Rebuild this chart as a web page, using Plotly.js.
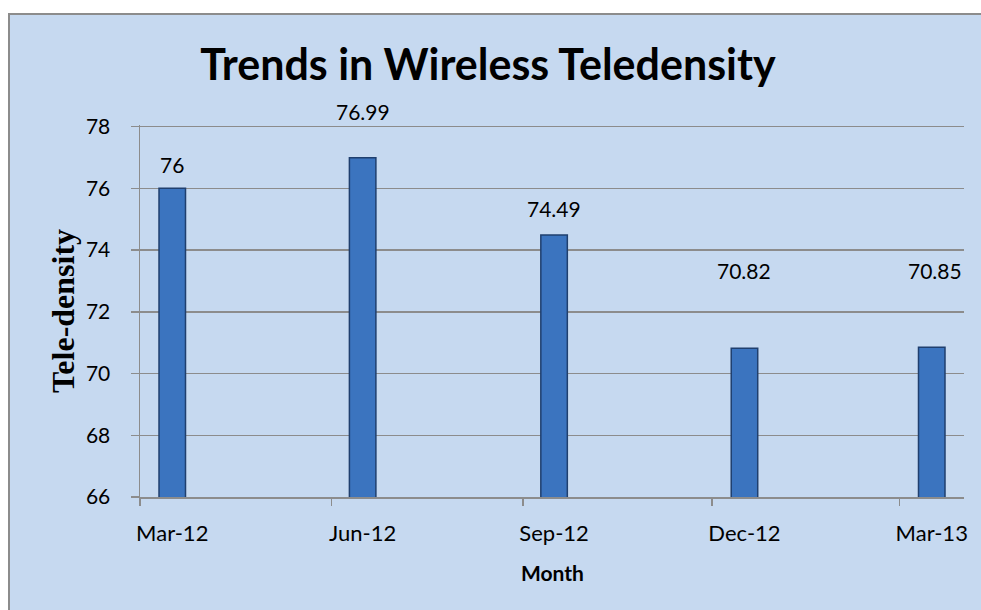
<!DOCTYPE html>
<html>
<head>
<meta charset="utf-8">
<script src="https://cdn.plot.ly/plotly-3.0.1.min.js"></script>
<style>
  html, body { margin: 0; padding: 0; background: #ffffff; overflow: hidden; width: 981px; height: 610px; }
  #wrap { position: absolute; left: 8px; top: 13px; width: 1100px; height: 700px; background: #c6d9f0;
          border-left: 2px solid #8c8c8c; border-top: 2px solid #8c8c8c; overflow: hidden; }
  #chart { width: 1000px; height: 600px; }
</style>
</head>
<body>
<div id="wrap"><div id="chart"></div></div>
<script>
// ---- data ----
const months = ['2012-03-01', '2012-06-01', '2012-09-01', '2012-12-01', '2013-03-01'];
const monthLabels = ['Mar-12', 'Jun-12', 'Sep-12', 'Dec-12', 'Mar-13'];
const teledensity = [76, 76.99, 74.49, 70.82, 70.85];
const valueLabels = ['76', '76.99', '74.49', '70.82', '70.85'];

// ---- layout helpers ----
function midMonth(s) {
  const d = new Date(s + 'T00:00:00Z');
  const start = Date.UTC(d.getUTCFullYear(), d.getUTCMonth(), 1);
  const next = Date.UTC(d.getUTCFullYear(), d.getUTCMonth() + 1, 1);
  return (start + next) / 2;
}
const mids = months.map(midMonth);
const labelShift = [24, 46, 26, 78, 77];   // label offsets above bar tops (px)
const labelXShift = [0, 0, 0, 0, 3];

const gridCol = '#8c8c8c';
const txtFont = 'Lato, "Open Sans", sans-serif';

const trace = {
  type: 'bar',
  x: months,
  y: teledensity,
  xperiod: 'M1',
  xperiodalignment: 'middle',
  width: 1.1e9,
  marker: { color: '#3b74bf', line: { color: '#1f3f6e', width: 1.5 } },
  hoverinfo: 'x+y'
};

const annotations = teledensity.map((v, i) => ({
  x: mids[i], y: v, xref: 'x', yref: 'y',
  text: valueLabels[i], showarrow: false,
  xanchor: 'center', yanchor: 'middle',
  yshift: labelShift[i], xshift: labelXShift[i],
  font: { family: txtFont, size: 21, color: '#000000' }
}));

annotations.push({
  xref: 'paper', yref: 'paper', x: -0.0934, y: 0.5,
  text: 'Tele-density', textangle: -90, showarrow: false,
  xanchor: 'center', yanchor: 'middle',
  font: { family: '"Liberation Serif", "Times New Roman", serif', size: 32, color: '#000000', weight: 'bold' }
});
annotations.push({
  xref: 'paper', yref: 'paper', x: 0.5, y: -0.2038,
  text: '<b>Month</b>', showarrow: false,
  xanchor: 'center', yanchor: 'middle',
  font: { family: txtFont, size: 21, color: '#000000' }
});

const layout = {
  width: 1000, height: 600,
  margin: { l: 130, r: 46, t: 110, b: 118, pad: 0 },
  paper_bgcolor: '#c6d9f0',
  plot_bgcolor: '#c6d9f0',
  showlegend: false,
  title: {
    text: '<b>Trends in Wireless Teledensity</b>',
    font: { family: txtFont, size: 43, color: '#000000' },
    xref: 'container', yref: 'container', x: 478 / 1000, y: 1 - 50 / 600,
    xanchor: 'center', yanchor: 'middle'
  },
  xaxis: {
    type: 'date',
    range: ['2012-03-01', '2013-04-01'],
    tickmode: 'array',
    tickvals: mids,
    ticktext: monthLabels,
    ticks: '',
    ticklabelstandoff: 16,
    showgrid: false,
    showline: true, linecolor: gridCol, linewidth: 1.5,
    zeroline: false,
    tickfont: { family: txtFont, size: 22, color: '#000000' },
    minor: { tickmode: 'array', tickvals: months, ticks: 'outside', ticklen: 7, tickcolor: gridCol, tickwidth: 1.5, showgrid: false },
    fixedrange: true
  },
  yaxis: {
    range: [66, 78.05],
    tickmode: 'array',
    tickvals: [66, 68, 70, 72, 74, 76, 78],
    showgrid: true, gridcolor: gridCol, gridwidth: 1.5,
    showline: true, linecolor: gridCol, linewidth: 1.5,
    zeroline: false,
    ticks: 'outside', ticklen: 8, tickcolor: gridCol, tickwidth: 1.5,
    ticklabelstandoff: 16,
    tickfont: { family: txtFont, size: 21, color: '#000000' },
    fixedrange: true
  },
  annotations: annotations
};

Plotly.newPlot('chart', [trace], layout, { displayModeBar: false, staticPlot: true });
</script>
</body>
</html>
